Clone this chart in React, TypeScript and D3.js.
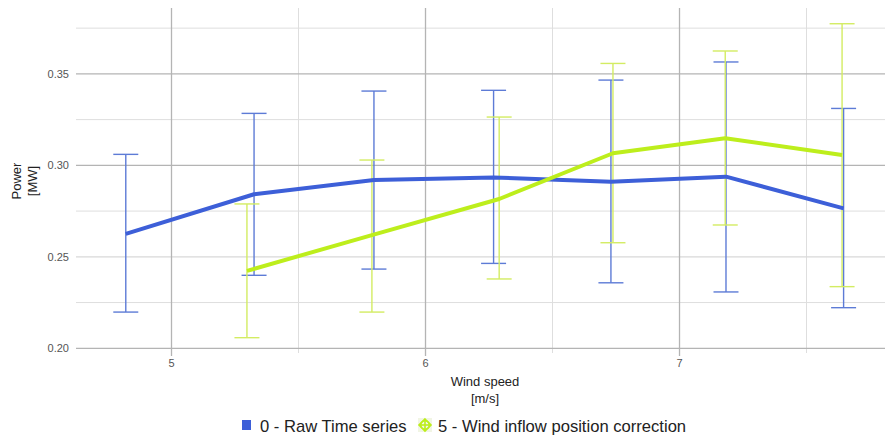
import React from "react";
import * as d3 from "d3";

const W = 885;
const H = 435;

const seriesNames = ["0 - Raw Time series", "5 - Wind inflow position correction"];

const rawX = [4.82, 5.325, 5.797, 6.268, 6.73, 7.183, 7.646];
const rawY = [0.2625, 0.2842, 0.292, 0.2934, 0.291, 0.2938, 0.2765];
const rawHi = [0.306, 0.3284, 0.3406, 0.341, 0.3466, 0.3565, 0.3311];
const rawLo = [0.2198, 0.2399, 0.2433, 0.2464, 0.2358, 0.2308, 0.2222];

const corrX = [5.297, 5.789, 6.29, 6.738, 7.18, 7.64];
const corrY = [0.2423, 0.2619, 0.2816, 0.3066, 0.3148, 0.3056];
const corrHi = [0.2789, 0.3029, 0.3264, 0.3557, 0.3625, 0.3774];
const corrLo = [0.2058, 0.2198, 0.2379, 0.2577, 0.2674, 0.2337];

const xMajor = [5, 6, 7];
const xMinor = [5.5, 6.5, 7.5];
const yMajor = [0.2, 0.25, 0.3, 0.35];
const yMinor = [0.225, 0.275, 0.325, 0.375];
const yTickLabels = ["0.20", "0.25", "0.30", "0.35"];
const xTickLabels = ["5", "6", "7"];

const BLUE = "#3d5fd8";
const BLUE_ERR = "#5d7bd6";
const GREEN = "#bdee1c";
const GREEN_ERR = "#d3ec62";

export default function App() {
  const x = d3.scaleLinear().domain([4.624, 7.809]).range([76, 885]);
  const y = d3.scaleLinear().domain([0.2, 0.386]).range([348.3, 8]);
  const line = d3
    .line<[number, number]>()
    .x((d) => x(d[0]))
    .y((d) => y(d[1]));
  const rawPts: [number, number][] = rawX.map((v, i) => [v, rawY[i]]);
  const corrPts: [number, number][] = corrX.map((v, i) => [v, corrY[i]]);
  const cap = 12.5;
  const font = "'Liberation Sans', Arial, sans-serif";

  const errBars = (xs: number[], hi: number[], lo: number[], color: string, key: string) =>
    xs.map((v, i) => (
      <g key={key + i} stroke={color} strokeWidth={1.4} fill="none">
        <line x1={x(v)} x2={x(v)} y1={y(hi[i])} y2={y(lo[i])} />
        <line x1={x(v) - cap} x2={x(v) + cap} y1={y(hi[i])} y2={y(hi[i])} />
        <line x1={x(v) - cap} x2={x(v) + cap} y1={y(lo[i])} y2={y(lo[i])} />
      </g>
    ));

  return (
    <svg
      width={W}
      height={H}
      style={{ position: "absolute", left: 0, top: 0, background: "#fff" }}
      fontFamily={font}
    >
      {yMinor.map((v) => (
        <line key={"ym" + v} x1={76} x2={885} y1={y(v)} y2={y(v)} stroke="#dedede" strokeWidth={1} />
      ))}
      {xMinor.map((v) => (
        <line key={"xm" + v} x1={x(v)} x2={x(v)} y1={8} y2={353} stroke="#dedede" strokeWidth={1} />
      ))}
      {yMajor.map((v) => (
        <line
          key={"yM" + v}
          x1={76}
          x2={885}
          y1={y(v)}
          y2={y(v)}
          stroke={v === 0.25 ? "#d8d8d8" : "#b4b4b4"}
          strokeWidth={1.3}
        />
      ))}
      {xMajor.map((v) => (
        <line key={"xM" + v} x1={x(v)} x2={x(v)} y1={8} y2={356} stroke="#b4b4b4" strokeWidth={1.3} />
      ))}
      {yMajor.map((v, i) => (
        <text key={"yt" + v} x={69} y={y(v) + 4} textAnchor="end" fontSize={11} fill="#555">
          {yTickLabels[i]}
        </text>
      ))}
      {xMajor.map((v, i) => (
        <text key={"xt" + v} x={x(v)} y={367} textAnchor="middle" fontSize={11} fill="#555">
          {xTickLabels[i]}
        </text>
      ))}
      <text x={485} y={386} textAnchor="middle" fontSize={13} fill="#222">
        Wind speed
      </text>
      <text x={485} y={403} textAnchor="middle" fontSize={13} fill="#222">
        [m/s]
      </text>
      <text transform="translate(21,181) rotate(-90)" textAnchor="middle" fontSize={13} fill="#222">
        Power
      </text>
      <text transform="translate(37,181) rotate(-90)" textAnchor="middle" fontSize={13} fill="#222">
        [MW]
      </text>
      {errBars(rawX, rawHi, rawLo, BLUE_ERR, "r")}
      {errBars(corrX, corrHi, corrLo, GREEN_ERR, "c")}
      <path d={line(rawPts) || ""} fill="none" stroke={BLUE} strokeWidth={4} strokeLinejoin="round" />
      <path d={line(corrPts) || ""} fill="none" stroke={GREEN} strokeWidth={4} strokeLinejoin="round" />
      <rect x={242} y={420} width={9} height={10} fill={BLUE} />
      <text x={260} y={432} fontSize={16.6} fill="#222">
        {seriesNames[0]}
      </text>
      <g transform="translate(425,425)">
        <rect x={-7} y={-7} width={14} height={14} fill="#f1f5e4" />
        <path d="M0,-6 L6,0 L0,6 L-6,0 Z" fill="none" stroke={GREEN} strokeWidth={1.6} />
        <circle r={4.3} fill="none" stroke={GREEN} strokeWidth={1.6} />
        <line x1={-6} x2={6} y1={0} y2={0} stroke={GREEN} strokeWidth={1.6} />
        <line x1={0} x2={0} y1={-6} y2={6} stroke={GREEN} strokeWidth={1.6} />
      </g>
      <text x={438} y={432} fontSize={16.6} fill="#222">
        {seriesNames[1]}
      </text>
    </svg>
  );
}
